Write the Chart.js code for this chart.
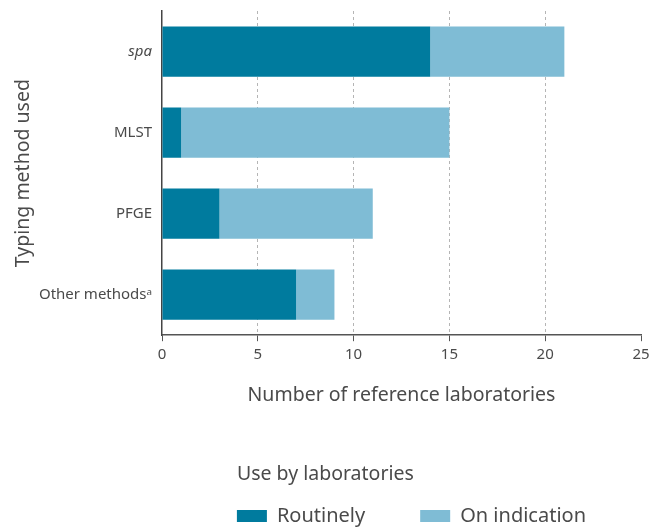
<!DOCTYPE html>
<html>
<head>
<meta charset="utf-8">
<script src="https://cdn.jsdelivr.net/npm/chart.js@4"></script>
<style>
  html, body { margin: 0; padding: 0; background: #fff; }
  #wrap { width: 650px; height: 527px; }
</style>
</head>
<body>
<div id="wrap"><canvas id="chart"></canvas></div>
<script>
// typing methods and counts of labs
const methods = ['spa', 'MLST', 'PFGE', 'Other methods\u1D43'];
const routinely = [14, 1, 3, 7];
const onIndication = [7, 14, 8, 2];
const xTicks = [0, 5, 10, 15, 20, 25];

const textColor = '#4a4a4a';
const fontFamily = "'Noto Sans', 'DejaVu Sans', sans-serif";

const ctx = document.getElementById('chart').getContext('2d');
new Chart(ctx, {
  type: 'bar',
  data: {
    labels: methods,
    datasets: [
      { label: 'Routinely', data: routinely, backgroundColor: '#007b9e' },
      { label: 'On indication', data: onIndication, backgroundColor: '#7fbcd5' },
    ],
  },
  options: {
    indexAxis: 'y',
    responsive: true,
    maintainAspectRatio: false,
    animation: false,
    barPercentage: 0.62,
    categoryPercentage: 1,
    layout: { padding: { top: 11, right: 9, left: 0, bottom: -9 } },
    scales: {
      x: {
        stacked: true,
        min: xTicks[0],
        max: xTicks[xTicks.length - 1],
        afterBuildTicks: (scale) => { scale.ticks = xTicks.map((v) => ({ value: v })); },
        afterFit: (scale) => { scale.paddingRight = 0; },
        grid: {
          color: (c) => (c.tick && (c.tick.value === 0 || c.tick.value === 25) ? 'rgba(0,0,0,0)' : '#b5b5b5'),
          tickColor: '#555',
          tickLength: 6,
          tickBorderDash: [],
        },
        border: { color: '#555', width: 1.5, dash: [3, 3] },
        ticks: { color: textColor, font: { family: fontFamily, size: 15 }, padding: 5 },
        title: {
          display: true,
          text: 'Number of reference laboratories',
          color: textColor,
          font: { family: fontFamily, size: 19.5 },
          padding: { top: 15, bottom: 57 },
        },
      },
      y: {
        stacked: true,
        afterFit: (scale) => {
          scale.width = 162;
          scale.paddingTop = 0;
          scale.paddingBottom = 0;
        },
        grid: { display: false, drawTicks: false },
        border: { color: '#444', width: 1.5 },
        ticks: {
          color: textColor,
          padding: 10,
          font: (c) => ({ family: fontFamily, size: 15, style: c.index === 0 ? 'italic' : 'normal' }),
        },
        title: {
          display: true,
          text: 'Typing method used',
          color: textColor,
          font: { family: fontFamily, size: 19.5 },
          padding: { top: 12, bottom: 0 },
        },
      },
    },
    plugins: {
      tooltip: { enabled: false },
      legend: {
        position: 'bottom',
        align: 'end',
        title: {
          display: true,
          position: 'start',
          text: 'Use by laboratories',
          color: textColor,
          font: { family: fontFamily, size: 19.5 },
          padding: { top: 0, bottom: -37 },
        },
        labels: {
          color: textColor,
          font: { family: fontFamily, size: 20 },
          boxWidth: 30,
          boxHeight: 12,
          padding: 55,
        },
      },
    },
  },
});
</script>
</body>
</html>
